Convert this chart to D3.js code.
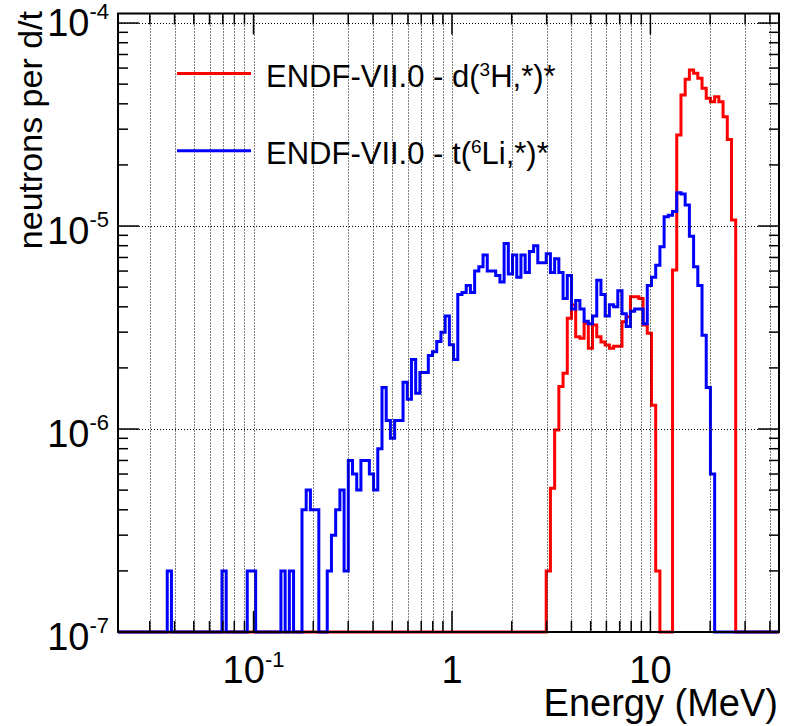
<!DOCTYPE html>
<html>
<head>
<meta charset="utf-8">
<script src="https://cdn.jsdelivr.net/npm/d3@7"></script>
<style>
  html, body { margin: 0; padding: 0; background: #fff; }
  svg { display: block; font-family: "Liberation Sans", Arial, Helvetica, sans-serif; }
</style>
</head>
<body>
<svg id="chart" width="790" height="726"></svg>
<script>
// log-uniform energy binning of both histograms
const binLowEdge = 0.02044;   // MeV, low edge of bin 0
const binLogWidth = 0.02122;  // decades per bin
const nBins = 158;

// d + 3H, values per bin starting at dtFirstBin
const dtFirstBin = 102;
const dtValues = [
  2.0e-7, 5.1e-7, 9.9e-7, 1.62e-6, 1.88e-6, 3.51e-6, 4.08e-6, 2.85e-6, 2.80e-6, 3.32e-6,
  2.50e-6, 3.25e-6, 2.85e-6, 2.68e-6, 2.59e-6, 2.50e-6, 2.56e-6, 2.56e-6, 3.38e-6, 3.57e-6,
  4.48e-6, 4.48e-6, 4.40e-6, 3.25e-6, 2.96e-6, 1.31e-6, 2.0e-7, 0, 0, 0,
  6.07e-6, 2.81e-5, 4.42e-5, 5.28e-5, 5.87e-5, 5.65e-5, 5.34e-5, 4.77e-5, 4.26e-5, 4.10e-5,
  4.34e-5, 4.10e-5, 3.45e-5, 2.67e-5, 1.07e-5
];

// t + 6Li, values per bin starting at tliFirstBin
const tliFirstBin = 12;
const tliValues = [
  2e-7, 0, 0, 0, 0, 0, 0, 0, 0, 0,
  0, 0, 0, 2e-7, 0, 0, 0, 0, 0, 2e-7,
  2e-7, 0, 0, 0, 0, 0, 0, 2e-7, 0, 2e-7,
  0, 0, 4e-7, 5e-7, 4e-7, 4e-7, 0, 0, 2e-7, 3e-7,
  4e-7, 5e-7, 2e-7, 7e-7, 6e-7, 5e-7, 7e-7, 7e-7, 6e-7, 5e-7,
  8e-7, 1.6e-6, 1.1e-6, 9e-7, 1.1e-6, 1.1e-6, 1.7e-6, 1.4e-6, 2.2e-6, 1.5e-6,
  1.9e-6, 1.9e-6, 2.3e-6, 2.4e-6, 2.7e-6, 3.0e-6, 3.6e-6, 2.6e-6, 2.2e-6, 4.6e-6,
  4.7e-6, 5.1e-6, 4.7e-6, 6.0e-6, 6.3e-6, 7.2e-6, 6.0e-6, 6.0e-6, 5.7e-6, 5.3e-6,
  8.2e-6, 5.8e-6, 7.2e-6, 5.6e-6, 7.2e-6, 5.9e-6, 7.5e-6, 8.0e-6, 6.6e-6, 6.6e-6,
  7.3e-6, 5.9e-6, 6.9e-6, 5.9e-6, 4.4e-6, 5.7e-6, 3.9e-6, 4.3e-6, 3.9e-6, 3.4e-6,
  3.3e-6, 3.6e-6, 5.4e-6, 4.6e-6, 3.6e-6, 4.1e-6, 4.0e-6, 4.8e-6, 3.7e-6, 3.2e-6,
  3.8e-6, 3.9e-6, 3.9e-6, 3.3e-6, 5.1e-6, 5.6e-6, 6.4e-6, 7.9e-6, 1.11e-5, 1.13e-5,
  1.18e-5, 1.46e-5, 1.44e-5, 1.27e-5, 8.9e-6, 6.3e-6, 5.1e-6, 2.9e-6, 1.6e-6, 6.0e-7
];

const seriesNames = ['ENDF-VII.0 - d(^{3}H,*)*', 'ENDF-VII.0 - t(^{6}Li,*)*'];
const xTicks = [0.1, 1, 10];
const xTickLabels = ['10^{-1}', '1', '10'];
const yTicks = [1e-7, 1e-6, 1e-5, 1e-4];
const yTickLabels = ['10^{-7}', '10^{-6}', '10^{-5}', '10^{-4}'];
const xTitle = 'Energy (MeV)';
const yTitle = 'neutrons per d/t';

const svg = d3.select('#chart');
const frame = {left: 118, right: 779, top: 13.5, bottom: 632};

const x = d3.scaleLog()
  .domain([Math.pow(10, -1.683), Math.pow(10, 1.648)])
  .range([frame.left, frame.right]);
const y = d3.scaleLog()
  .domain([1e-7, Math.pow(10, -3.953)])
  .range([frame.bottom, frame.top]);
const yMin = y.domain()[0];

// text with ^{...} superscripts
function richText(sel, str, supSize, raise) {
  const parts = str.split(/\^\{([^}]*)\}/);
  let up = false;
  parts.forEach((p, i) => {
    if (i % 2 === 1) {
      sel.append('tspan').attr('dy', -raise).attr('font-size', supSize).text(p);
      up = true;
    } else if (p) {
      sel.append('tspan').attr('dy', up ? raise : 0).text(p);
      up = false;
    }
  });
}

svg.append('defs').append('clipPath').attr('id', 'frameClip')
  .append('rect')
  .attr('x', frame.left).attr('y', frame.top - 2)
  .attr('width', frame.right - frame.left)
  .attr('height', frame.bottom - frame.top + 4);

// histograms
const edges = d3.range(nBins + 1).map(k => binLowEdge * Math.pow(10, k * binLogWidth));

function binArray(first, vals) {
  const a = new Array(nBins).fill(0);
  vals.forEach((v, i) => { a[first + i] = v; });
  return a;
}

function stepPoints(a) {
  const pts = a.map((v, k) => [edges[k], v]);
  pts.push([edges[nBins], a[nBins - 1]]);
  return pts;
}

const line = d3.line()
  .curve(d3.curveStepAfter)
  .x(d => x(d[0]))
  .y(d => y(Math.max(d[1], yMin)));

const hist = svg.append('g').attr('clip-path', 'url(#frameClip)');
[[dtFirstBin, dtValues, '#ff0000'], [tliFirstBin, tliValues, '#0000ff']].forEach(s => {
  hist.append('path')
    .datum(stepPoints(binArray(s[0], s[1])))
    .attr('fill', 'none')
    .attr('stroke', s[2])
    .attr('stroke-width', 3)
    .attr('stroke-linejoin', 'miter')
    .attr('d', line);
});

// tick values
const xAll = [];
for (let d = -2; d <= 1; d++) {
  for (let m = 1; m <= 9; m++) {
    const v = m * Math.pow(10, d);
    if (v > x.domain()[0] && v < x.domain()[1]) xAll.push({v: v, major: m === 1});
  }
}
const yAll = [];
for (let d = -7; d <= -4; d++) {
  for (let m = 1; m <= 9; m++) {
    const v = m * Math.pow(10, d);
    if (v >= y.domain()[0] && v < y.domain()[1]) yAll.push({v: v, major: m === 1});
  }
}

// grid
const grid = svg.append('g')
  .attr('stroke', '#000')
  .attr('stroke-width', 1)
  .attr('stroke-dasharray', '1,2');
grid.selectAll('.gx').data(xAll).enter().append('line')
  .attr('x1', d => Math.round(x(d.v)) + 0.5).attr('x2', d => Math.round(x(d.v)) + 0.5)
  .attr('y1', frame.top).attr('y2', frame.bottom);
grid.selectAll('.gy').data(yAll.filter(d => d.major && d.v > yMin)).enter().append('line')
  .attr('x1', frame.left).attr('x2', frame.right)
  .attr('y1', d => Math.round(y(d.v)) + 0.5).attr('y2', d => Math.round(y(d.v)) + 0.5);

// ticks
const ticks = svg.append('g').attr('stroke', '#000').attr('stroke-width', 1.5);
xAll.forEach(d => {
  const len = d.major ? 21 : 11;
  const px = x(d.v);
  ticks.append('line').attr('x1', px).attr('x2', px).attr('y1', frame.bottom).attr('y2', frame.bottom - len);
  ticks.append('line').attr('x1', px).attr('x2', px).attr('y1', frame.top).attr('y2', frame.top + len);
});
yAll.forEach(d => {
  const len = d.major ? 21 : 10;
  const py = y(d.v);
  ticks.append('line').attr('x1', frame.left).attr('x2', frame.left + len).attr('y1', py).attr('y2', py);
  ticks.append('line').attr('x1', frame.right).attr('x2', frame.right - len).attr('y1', py).attr('y2', py);
});

svg.append('rect')
  .attr('x', frame.left).attr('y', frame.top)
  .attr('width', frame.right - frame.left)
  .attr('height', frame.bottom - frame.top)
  .attr('fill', 'none')
  .attr('stroke', '#000')
  .attr('stroke-width', 2);

// tick labels
xTicks.forEach((v, i) => {
  const t = svg.append('text')
    .attr('x', x(v)).attr('y', 683)
    .attr('text-anchor', 'middle')
    .attr('font-size', 38)
    .attr('fill', '#000');
  richText(t, xTickLabels[i], 22, 16.5);
});
yTicks.forEach((v, i) => {
  let base = y(v) + 18;
  // keep the top label from running off the page
  if (base - 30 < frame.top) base = frame.top + 22;
  const t = svg.append('text')
    .attr('x', 109).attr('y', base)
    .attr('text-anchor', 'end')
    .attr('font-size', 38)
    .attr('fill', '#000');
  richText(t, yTickLabels[i], 22, 17);
});

// axis titles
svg.append('text')
  .attr('x', 778).attr('y', 716)
  .attr('text-anchor', 'end')
  .attr('font-size', 38)
  .text(xTitle);
svg.append('text')
  .attr('transform', 'translate(42,11) rotate(-90)')
  .attr('text-anchor', 'end')
  .attr('font-size', 34)
  .text(yTitle);

// legend
const legend = svg.append('g');
['#ff0000', '#0000ff'].forEach((c, i) => {
  const ly = 73.5 + i * 77.3;
  legend.append('line')
    .attr('x1', 177).attr('x2', 251)
    .attr('y1', ly).attr('y2', ly)
    .attr('stroke', c).attr('stroke-width', 3);
  const t = legend.append('text')
    .attr('x', 266).attr('y', ly + 13.2)
    .attr('font-size', 31)
    .attr('fill', '#000');
  richText(t, seriesNames[i], 19, 11);
});
</script>
</body>
</html>
